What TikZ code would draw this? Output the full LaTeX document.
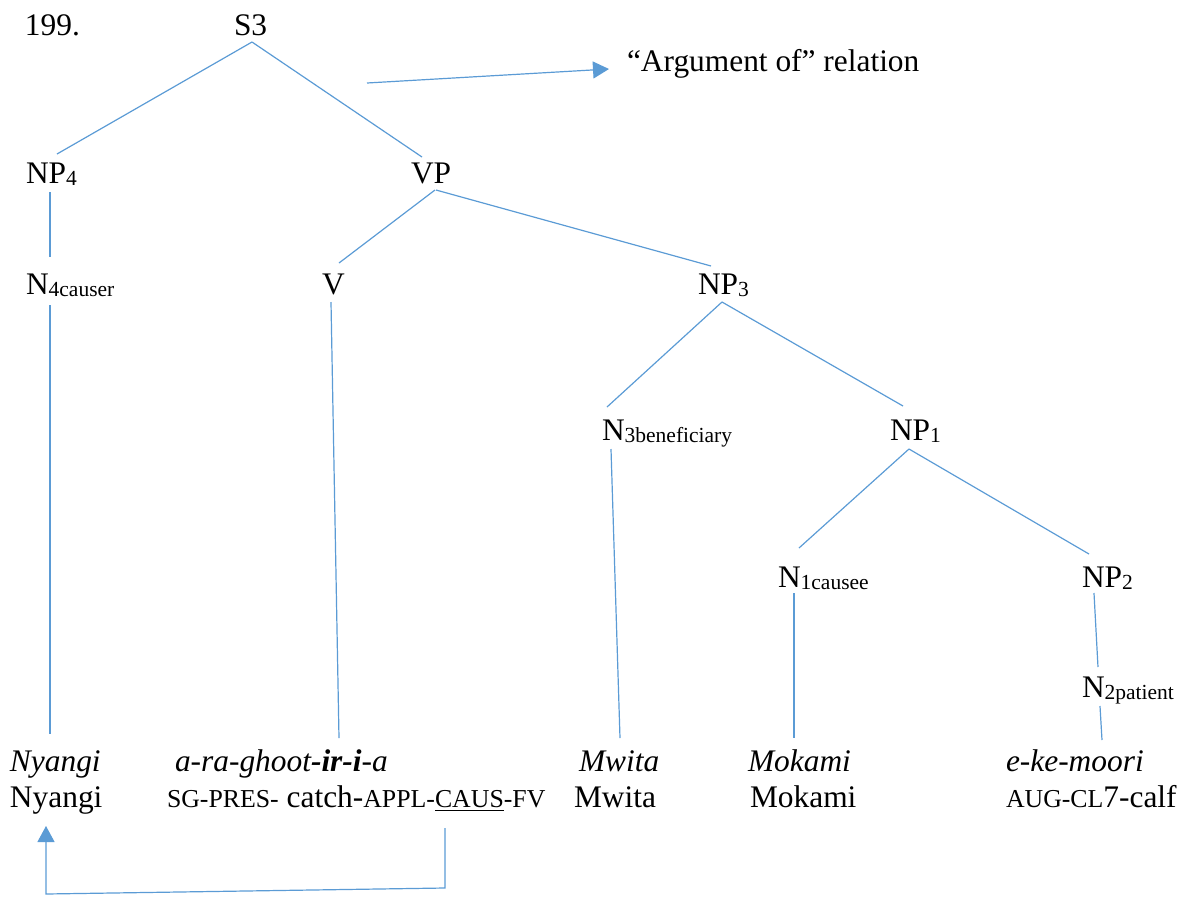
\documentclass[tikz,border=0pt]{standalone}
\usepackage{fontspec}
\setmainfont{Liberation Serif}
\usetikzlibrary{calc,arrows.meta}

% subscript on category labels and small-caps glosses
\newcommand\lsub[1]{\raisebox{-1.2pt}{\fontsize{10.75}{12}\selectfont #1}}
\newcommand\smc[1]{{\fontsize{12.9}{15}\selectfont #1}}

\definecolor{treeblue}{HTML}{5B9BD5}

\tikzset{
  lbl/.style={anchor=base west, inner sep=0pt, outer sep=0pt, font=\fontsize{15.7}{18}\selectfont},
  branch/.style={draw=treeblue, line width=0.6pt},
  pointer/.style={draw=treeblue, line width=0.6pt, -{Triangle[length=8pt,width=8.5pt]}},
}

\begin{document}
\begin{tikzpicture}[x=0.5pt, y=-0.5pt]
\useasboundingbox (0,0) rectangle (1191,896);

% labels
\node[lbl] (num) at (25,35) {199.};
\node[lbl] (s3)  at (234,35) {S3};
\node[lbl] (arg) at (627,71) {“Argument of” relation};
\node[lbl] (np4) at (26,183) {NP\lsub{4}};
\node[lbl] (vp)  at (411,183) {VP};
\node[lbl] (n4)  at (26,294) {N\lsub{4causer}};
\node[lbl] (v)   at (322,294) {V};
\node[lbl] (np3) at (698,294) {NP\lsub{3}};
\node[lbl] (n3)  at (602,440) {N\lsub{3beneficiary}};
\node[lbl] (np1) at (890,440) {NP\lsub{1}};
\node[lbl] (n1)  at (778,587) {N\lsub{1causee}};
\node[lbl] (np2) at (1082,587) {NP\lsub{2}};
\node[lbl] (n2)  at (1082,697) {N\lsub{2patient}};

% object-language words
\node[lbl] (w1i) at (10,771)   {\textit{Nyangi}};
\node[lbl] (w2i) at (175,771)  {\textit{a-ra-ghoot\textbf{-ir-i}-a}};
\node[lbl] (w3i) at (579,771)  {\textit{Mwita}};
\node[lbl] (w4i) at (748,771)  {\textit{Mokami}};
\node[lbl] (w5i) at (1006,771) {\textit{e-ke-moori}};

% glosses
\node[lbl] (w1) at (10,807)   {Nyangi};
\node[lbl] (w2) at (167,807)  {\smc{SG-PRES-} catch-\smc{APPL-\underline{CAUS}-FV}};
\node[lbl] (w3) at (574,807)  {Mwita};
\node[lbl] (w4) at (750,807)  {Mokami};
\node[lbl] (w5) at (1006,807) {\smc{AUG-CL}7-calf};

% tree branches
\draw[branch] ($(s3.base west)+(18,7)$)   -- ($(np4.base west)+(31,-29)$);
\draw[branch] ($(s3.base west)+(18,7)$)   -- ($(vp.base west)+(11,-26)$);
\draw[branch] ($(np4.base west)+(24,9)$)  -- ($(n4.base west)+(24,-37)$);
\draw[branch] ($(vp.base west)+(24,7)$)   -- ($(v.base west)+(17,-31)$);
\draw[branch] ($(vp.base west)+(25,7)$)   -- ($(np3.base west)+(13,-28)$);
\draw[branch] ($(n4.base west)+(24,11)$)  -- ($(w1i.base west)+(40,-37)$);
\draw[branch] ($(v.base west)+(9,8)$)     -- ($(w2i.base west)+(164,-33)$);
\draw[branch] ($(np3.base west)+(24,8)$)  -- ($(n3.base west)+(5,-33)$);
\draw[branch] ($(np3.base west)+(24,8)$)  -- ($(np1.base west)+(13,-34)$);
\draw[branch] ($(n3.base west)+(9,9)$)    -- ($(w3i.base west)+(41,-33)$);
\draw[branch] ($(np1.base west)+(19,9)$)  -- ($(n1.base west)+(21,-39)$);
\draw[branch] ($(np1.base west)+(19,9)$)  -- ($(np2.base west)+(7,-33)$);
\draw[branch] ($(n1.base west)+(16,6)$)   -- ($(w4i.base west)+(46,-33)$);
\draw[branch] ($(np2.base west)+(12,6)$)  -- ($(n2.base west)+(16,-30)$);
\draw[branch] ($(n2.base west)+(18,9)$)   -- ($(w5i.base west)+(96,-31)$);

% "argument of" key arrow
\coordinate (argfrom) at (367,83);
\draw[pointer] (argfrom) -- ($(arg.base west)+(-18,-2)$);

% causative morpheme pointing back to the causer
\draw[pointer] ($(w2.base west)+(278,21)$) -- ++(0,60)
  -- ($(w1.base west)+(36,87)$) -- ($(w1.base west)+(36,19)$);
\end{tikzpicture}
\end{document}
